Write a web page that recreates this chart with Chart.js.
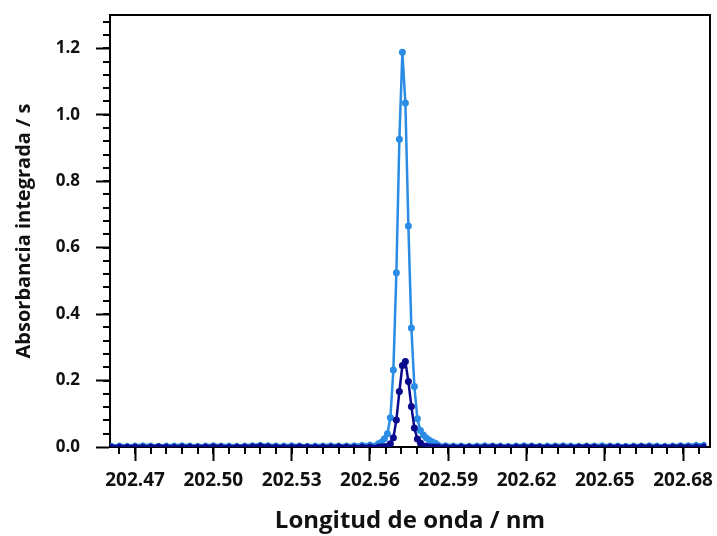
<!DOCTYPE html>
<html>
<head>
<meta charset="utf-8">
<script src="https://cdn.jsdelivr.net/npm/chart.js@4.4.1/dist/chart.umd.min.js"></script>
<style>
  html, body { margin: 0; padding: 0; background: #ffffff; }
  #wrap { width: 717px; height: 536px; }
</style>
</head>
<body>
<div id="wrap"><canvas id="c" width="717" height="536"></canvas></div>
<script>
// Wavelength grid (nm)
const wavelength = [
  202.461, 202.464, 202.467, 202.470, 202.473, 202.476, 202.479, 202.482, 202.485, 202.488,
  202.491, 202.494, 202.497, 202.500, 202.503, 202.506, 202.509, 202.512, 202.515, 202.518,
  202.521, 202.524, 202.527, 202.530, 202.533, 202.536, 202.539, 202.542, 202.545, 202.548,
  202.551, 202.554, 202.557, 202.560,
  202.56324, 202.56439, 202.56554, 202.56669, 202.56783, 202.56898, 202.57013, 202.57128,
  202.57243, 202.57358, 202.57473, 202.57588, 202.57703, 202.57818, 202.57933, 202.58048,
  202.58163, 202.58278, 202.58393, 202.58508, 202.58623,
  202.589, 202.592, 202.595, 202.598, 202.601, 202.604, 202.607, 202.610, 202.613, 202.616,
  202.619, 202.622, 202.625, 202.628, 202.631, 202.634, 202.637, 202.640, 202.643, 202.646,
  202.649, 202.652, 202.655, 202.658, 202.661, 202.664, 202.667, 202.670, 202.673, 202.676,
  202.679, 202.682, 202.685, 202.688
];

// Series 1 (light blue, tall peak)
const absorbanceHigh = [
  0.005, 0.006, 0.005, 0.006, 0.007, 0.006, 0.005, 0.006, 0.006, 0.007,
  0.006, 0.005, 0.006, 0.007, 0.006, 0.006, 0.005, 0.006, 0.007, 0.008,
  0.007, 0.006, 0.006, 0.007, 0.006, 0.005, 0.006, 0.006, 0.007, 0.006,
  0.006, 0.007, 0.008, 0.009,
  0.010, 0.014, 0.025, 0.040, 0.088, 0.232, 0.524, 0.926,
  1.188, 1.035, 0.665, 0.358, 0.182, 0.085, 0.050, 0.036,
  0.027, 0.020, 0.015, 0.011, 0.008,
  0.007, 0.006, 0.006, 0.005, 0.006, 0.007, 0.006, 0.006, 0.005, 0.006,
  0.007, 0.006, 0.005, 0.006, 0.006, 0.007, 0.006, 0.005, 0.006, 0.006,
  0.007, 0.006, 0.006, 0.005, 0.006, 0.006, 0.007, 0.006, 0.005, 0.006,
  0.007, 0.007, 0.008, 0.008
];

// Series 2 (dark navy, small peak)
const absorbanceLow = [
  0.002, 0.003, 0.002, 0.003, 0.002, 0.003, 0.004, 0.003, 0.002, 0.003,
  0.003, 0.002, 0.003, 0.004, 0.003, 0.002, 0.003, 0.003, 0.004, 0.005,
  0.004, 0.003, 0.002, 0.003, 0.004, 0.003, 0.002, 0.003, 0.003, 0.004,
  0.003, 0.002, 0.003, 0.003,
  0.003, 0.004, 0.004, 0.005, 0.010, 0.028, 0.081, 0.167,
  0.245, 0.257, 0.197, 0.122, 0.057, 0.024, 0.012, 0.007,
  0.005, 0.004, 0.003, 0.003, 0.003,
  0.003, 0.002, 0.003, 0.003, 0.002, 0.003, 0.004, 0.003, 0.002, 0.003,
  0.003, 0.004, 0.003, 0.002, 0.003, 0.003, 0.002, 0.003, 0.004, 0.003,
  0.002, 0.003, 0.003, 0.002, 0.003, 0.004, 0.003, 0.002, 0.003, 0.003,
  0.004, 0.003, 0.003, 0.004
];

// Axis ticks
const xTickValues = [202.47, 202.50, 202.53, 202.56, 202.59, 202.62, 202.65, 202.68];
const yTickValues = [0.0, 0.2, 0.4, 0.6, 0.8, 1.0, 1.2];

const xTitle = 'Longitud de onda / nm';
const yTitle = 'Absorbancia integrada / s';

const lightBlue = '#2A8CE4';
const navy = '#0A0A8C';

function pts(xs, ys) {
  return xs.map((x, i) => ({ x: x, y: ys[i] }));
}

// smaller markers where the trace sits on the baseline (dense overlapping dots there)
function markerRadius(ctx) {
  const v = ctx.raw && ctx.raw.y;
  return v !== undefined && v < 0.01 ? 2.5 : 3.5;
}

const boxAndMinorTicks = {
  id: 'boxAndMinorTicks',
  afterDraw(chart) {
    const { ctx, chartArea: a, scales } = chart;
    ctx.save();
    ctx.strokeStyle = '#000';
    ctx.lineWidth = 2;
    ctx.beginPath();
    ctx.moveTo(a.left, a.top);
    ctx.lineTo(a.right, a.top);
    ctx.lineTo(a.right, a.bottom);
    ctx.stroke();
    const xs = scales.x;
    const stepX = (xTickValues[1] - xTickValues[0]) / 5;
    ctx.beginPath();
    for (let v = xTickValues[0] - 2 * stepX; v <= xs.max; v += stepX) {
      if (v < xs.min) continue;
      const px = Math.round(xs.getPixelForValue(v));
      ctx.moveTo(px, a.bottom);
      ctx.lineTo(px, a.bottom + 7);
    }
    ctx.stroke();
    const ys = scales.y;
    const stepY = (yTickValues[1] - yTickValues[0]) / 5;
    ctx.beginPath();
    for (let v = stepY; v <= ys.max; v += stepY) {
      const py = Math.round(ys.getPixelForValue(v));
      ctx.moveTo(a.left - 7, py);
      ctx.lineTo(a.left, py);
    }
    ctx.stroke();
    ctx.restore();
  }
};

new Chart(document.getElementById('c'), {
  type: 'line',
  data: {
    datasets: [
      {
        label: 'B',
        data: pts(wavelength, absorbanceLow),
        borderColor: navy,
        backgroundColor: navy,
        borderWidth: 2.5,
        pointRadius: markerRadius,
        pointBorderWidth: 0,
        pointHoverRadius: 3.5,
        tension: 0,
        order: 0
      },
      {
        label: 'A',
        data: pts(wavelength, absorbanceHigh),
        borderColor: lightBlue,
        backgroundColor: lightBlue,
        borderWidth: 2.5,
        pointRadius: markerRadius,
        pointBorderWidth: 0,
        pointHoverRadius: 3.5,
        tension: 0,
        order: 1
      }
    ]
  },
  options: {
    responsive: false,
    animation: false,
    events: [],
    layout: { padding: { left: 0, right: 7, top: 15, bottom: 0 } },
    plugins: { legend: { display: false }, tooltip: { enabled: false } },
    scales: {
      x: {
        type: 'linear',
        min: 202.4604,
        max: 202.6903,
        afterFit(scale) { scale.height = 89; scale.paddingLeft = 0; scale.paddingRight = 0; },
        afterBuildTicks(scale) { scale.ticks = xTickValues.map(v => ({ value: v })); },
        grid: { drawOnChartArea: false, tickLength: 14, tickColor: '#000', tickWidth: 2 },
        border: { color: '#000', width: 2 },
        ticks: {
          color: '#111',
          padding: 8,
          maxRotation: 0,
          autoSkip: false,
          font: { family: 'Open Sans', weight: 'bold', size: 19 },
          callback: (v) => v.toFixed(2)
        },
        title: {
          display: true,
          text: xTitle,
          color: '#111',
          font: { family: 'Open Sans', weight: 'bold', size: 24 },
          padding: { top: 0, bottom: 0 }
        }
      },
      y: {
        min: 0,
        max: 1.3,
        afterFit(scale) { scale.width = 110; scale.paddingTop = 0; scale.paddingBottom = 0; },
        afterBuildTicks(scale) { scale.ticks = yTickValues.map(v => ({ value: v })); },
        grid: { drawOnChartArea: false, tickLength: 14, tickColor: '#000', tickWidth: 2 },
        border: { color: '#000', width: 2 },
        ticks: {
          color: '#111',
          padding: 16,
          font: { family: 'Open Sans', weight: 'bold', size: 17 },
          callback: (v) => v.toFixed(1)
        },
        title: {
          display: true,
          text: yTitle,
          color: '#111',
          font: { family: 'Open Sans', weight: 'bold', size: 20 },
          padding: { top: 12, bottom: 0 }
        }
      }
    }
  },
  plugins: [boxAndMinorTicks]
});
</script>
</body>
</html>
